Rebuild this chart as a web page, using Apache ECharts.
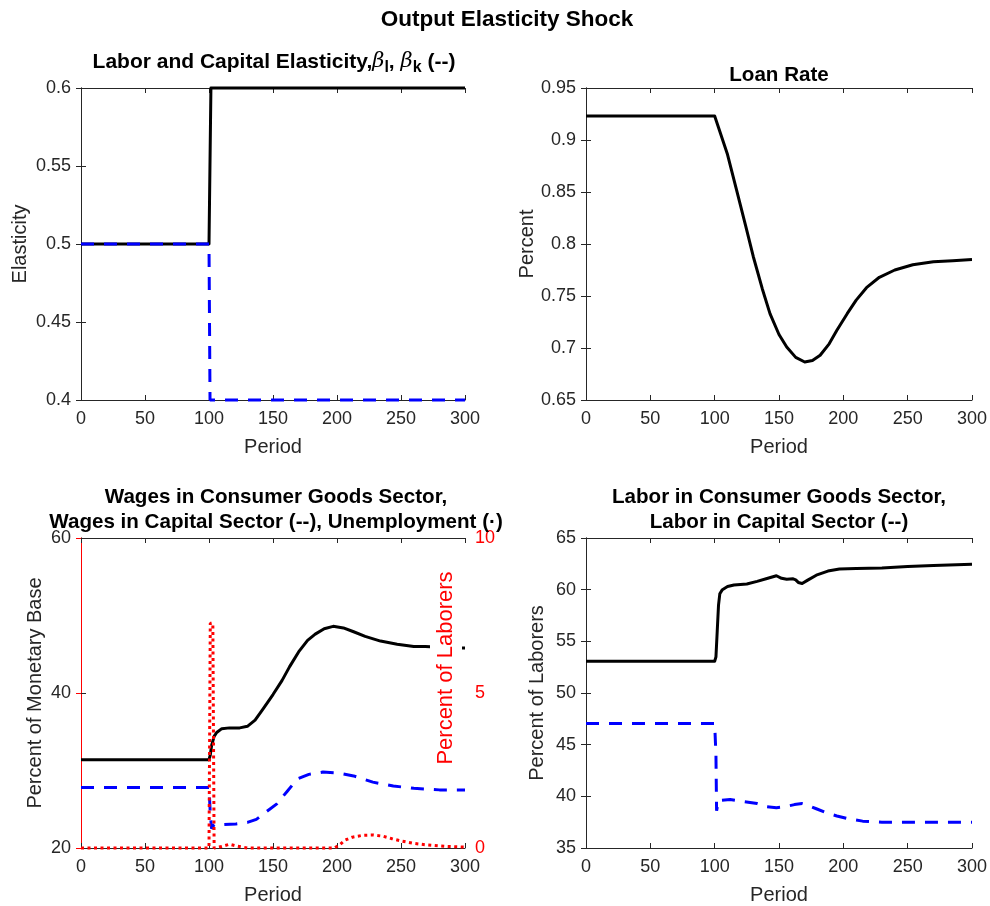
<!DOCTYPE html>
<html>
<head>
<meta charset="utf-8">
<script src="https://cdn.jsdelivr.net/npm/echarts@6/dist/echarts.min.js"></script>
<style>
  html, body { margin: 0; padding: 0; background: #fff; }
  #chart { width: 990px; height: 906px; }
</style>
</head>
<body>
<div id="chart"></div>
<script>
// ---- Panel 1: labor and capital output elasticities ----
const laborElastPeriod = [0, 100, 101.5, 300];
const laborElast = [0.5, 0.5, 0.6, 0.6];
const capitalElastPeriod = [0, 100, 100.8, 300];
const capitalElast = [0.5, 0.5, 0.4, 0.4];

// ---- Panel 2: loan rate ----
const loanPeriod = [0, 50, 100, 101.5, 110, 117, 124, 130, 137, 143, 150, 156, 163, 170, 176, 182, 189, 195, 203, 210, 218, 228, 240, 254, 270, 285, 300];
const loanRate = [0.923, 0.923, 0.923, 0.922, 0.886, 0.852, 0.818, 0.788, 0.757, 0.733, 0.713, 0.701, 0.691, 0.6865, 0.688, 0.693, 0.704, 0.717, 0.733, 0.746, 0.758, 0.768, 0.775, 0.780, 0.783, 0.784, 0.785];

// ---- Panel 3: wages and unemployment ----
const wageConsPeriod = [0, 100, 101, 102, 104, 106, 110, 116, 124, 130, 136, 142, 150, 157, 163, 170, 177, 183, 190, 197, 205, 213, 222, 234, 247, 260, 269, 280, 290, 300];
const wageCons = [31.4, 31.4, 32.0, 33.2, 34.4, 34.9, 35.4, 35.5, 35.5, 35.7, 36.5, 37.9, 39.8, 41.6, 43.4, 45.3, 46.8, 47.6, 48.3, 48.6, 48.4, 47.9, 47.3, 46.7, 46.3, 46.0, 46.0, 45.9, 45.8, 45.8];
const wageCapPeriod = [0, 100, 101, 102, 104, 110, 121, 130, 137, 145, 153, 161, 169, 178, 189, 200, 213, 228, 244, 260, 280, 300];
const wageCap = [27.8, 27.8, 24.5, 22.5, 23.0, 23.0, 23.1, 23.3, 23.7, 24.7, 25.7, 27.3, 28.9, 29.5, 29.8, 29.7, 29.3, 28.5, 28.0, 27.7, 27.5, 27.5];
const unempPeriod = [0, 100, 101, 103, 104, 110, 116, 122, 130, 198, 202, 206, 212, 220, 228, 236, 243, 250, 260, 270, 285, 300];
const unemp = [0, 0, 7.25, 7.25, 0, 0.05, 0.12, 0.06, 0, 0, 0.1, 0.25, 0.35, 0.41, 0.42, 0.38, 0.3, 0.23, 0.15, 0.1, 0.05, 0.03];

// ---- Panel 4: labor by sector ----
const laborConsPeriod = [0, 100, 101, 102, 103, 104, 106, 110, 115, 125, 133, 140, 148, 152, 156, 161, 163, 165, 168, 172, 179, 188, 197, 210, 230, 250, 270, 300];
const laborCons = [53.07, 53.07, 53.5, 56, 58.5, 59.6, 60.0, 60.3, 60.45, 60.55, 60.8, 61.05, 61.35, 61.1, 61.0, 61.05, 60.95, 60.7, 60.6, 60.9, 61.4, 61.8, 62.0, 62.05, 62.1, 62.25, 62.35, 62.45];
const laborCapPeriod = [0, 100, 101, 101.5, 103, 112, 122, 133, 140, 148, 155, 162, 168, 173, 179, 187, 195, 205, 215, 230, 300];
const laborCap = [47.05, 47.05, 44, 38.6, 39.6, 39.7, 39.5, 39.3, 39.0, 38.9, 39.0, 39.2, 39.3, 39.1, 38.8, 38.4, 38.1, 37.8, 37.6, 37.5, 37.5];

const FONT = "'Liberation Sans', Arial, Helvetica, sans-serif";
const AXIS = '#262626';
const pairs = (xs, ys) => xs.map((x, i) => [x, ys[i]]);

// plot rectangles of the four panels
const grids = [
  { left: 81, top: 88, width: 384, height: 312 },
  { left: 586, top: 88, width: 386, height: 312 },
  { left: 81, top: 538, width: 384, height: 311 },
  { left: 586, top: 538, width: 386, height: 311 }
];

function xAxesFor(g) {
  return [
    {
      gridIndex: g, type: 'value', position: 'bottom', min: 0, max: 300, interval: 50,
      name: 'Period', nameLocation: 'middle', nameGap: 37,
      nameTextStyle: { fontFamily: FONT, fontSize: 20, color: AXIS },
      axisLine: { lineStyle: { color: AXIS, width: 1 } },
      axisTick: { inside: true, length: 5, lineStyle: { color: AXIS } },
      axisLabel: { fontFamily: FONT, fontSize: 18, color: AXIS, margin: 10 },
      splitLine: { show: false }
    },
    {
      gridIndex: g, type: 'value', position: 'top', min: 0, max: 300, interval: 50,
      axisLine: { lineStyle: { color: AXIS, width: 1 } },
      axisTick: { inside: true, length: 5, lineStyle: { color: AXIS } },
      axisLabel: { show: false },
      splitLine: { show: false }
    }
  ];
}

function yAxesFor(g, min, max, interval, name, gap, right) {
  const left = {
    gridIndex: g, type: 'value', position: 'left', min, max, interval,
    name, nameLocation: 'middle', nameGap: gap,
    nameTextStyle: { fontFamily: FONT, fontSize: 20, color: AXIS },
    axisLine: { show: true, lineStyle: { color: AXIS, width: 1 } },
    axisTick: { show: true, inside: true, length: 5, lineStyle: { color: AXIS } },
    axisLabel: { fontFamily: FONT, fontSize: 18, color: AXIS, margin: 10 },
    splitLine: { show: false }
  };
  const rightAxis = right || {
    gridIndex: g, type: 'value', position: 'right', min, max, interval,
    axisLine: { show: true, lineStyle: { color: AXIS, width: 1 } },
    axisTick: { show: true, inside: true, length: 5, lineStyle: { color: AXIS } },
    axisLabel: { show: false },
    splitLine: { show: false }
  };
  return [left, rightAxis];
}

const unempAxis = {
  gridIndex: 2, type: 'value', position: 'right', min: 0, max: 10, interval: 5,
  axisLine: { show: true, lineStyle: { color: '#ff0000', width: 1 } },
  axisTick: { show: true, inside: true, length: 5, lineStyle: { color: '#ff0000' } },
  axisLabel: { fontFamily: FONT, fontSize: 18, color: '#ff0000', margin: 10 },
  splitLine: { show: false }
};

const xAxis = [].concat(xAxesFor(0), xAxesFor(1), xAxesFor(2), xAxesFor(3));
const yAxis = [].concat(
  yAxesFor(0, 0.4, 0.6, 0.05, 'Elasticity', 51),
  yAxesFor(1, 0.65, 0.95, 0.05, 'Percent', 49),
  yAxesFor(2, 20, 60, 20, 'Percent of Monetary Base', 36, unempAxis),
  yAxesFor(3, 35, 65, 5, 'Percent of Laborers', 39)
);

const solid = { color: '#000000', width: 3, cap: 'butt', join: 'round' };
const dashed = { color: '#0000ff', width: 3, type: [13, 10], cap: 'butt' };
const dotted = { color: '#ff0000', width: 3, type: [3, 3.5], cap: 'butt' };

function line(g, yIdx, data, style) {
  return {
    type: 'line', xAxisIndex: 2 * g, yAxisIndex: yIdx, data,
    showSymbol: false, symbol: 'none', smooth: false, clip: false,
    lineStyle: style, animation: false, silent: true
  };
}

const series = [
  line(0, 0, pairs(laborElastPeriod, laborElast), solid),
  line(0, 0, pairs(capitalElastPeriod, capitalElast), dashed),
  line(1, 2, pairs(loanPeriod, loanRate), solid),
  line(2, 4, pairs(wageConsPeriod, wageCons), solid),
  line(2, 4, pairs(wageCapPeriod, wageCap), dashed),
  line(2, 5, pairs(unempPeriod, unemp), dotted),
  line(3, 6, pairs(laborConsPeriod, laborCons), solid),
  line(3, 6, pairs(laborCapPeriod, laborCap), dashed)
];

const titleFont = { fontFamily: FONT, fontWeight: 'bold', fontSize: 20.6, fill: '#000' };
function titleText(x, y, text, extra) {
  return {
    type: 'text', x, y, z: 50, silent: true,
    style: Object.assign({ text, align: 'center', verticalAlign: 'middle' }, titleFont, extra || {})
  };
}

const graphic = [
  titleText(507, 20, 'Output Elasticity Shock', { fontSize: 22.5 }),
  titleText(274, 62,
    '{a|Labor and Capital Elasticity,}{g|β}{s|l}{a|, }{g|β}{s|k}{a| (--)}',
    {
      rich: {
        a: { fontFamily: FONT, fontWeight: 'bold', fontSize: 21, fill: '#000' },
        g: { fontFamily: 'DejaVu Serif, serif', fontStyle: 'italic', fontSize: 21, fill: '#000' },
        s: { fontFamily: FONT, fontWeight: 'bold', fontSize: 16, fill: '#000', padding: [12, 0, 0, 0] }
      }
    }),
  titleText(779, 75, 'Loan Rate'),
  titleText(276, 497, 'Wages in Consumer Goods Sector,'),
  titleText(276, 522, 'Wages in Capital Sector (--), Unemployment (·)'),
  titleText(779, 497, 'Labor in Consumer Goods Sector,'),
  titleText(779, 522, 'Labor in Capital Sector (--)'),
  {
    type: 'text', x: 446, y: 668, rotation: Math.PI / 2, z: 60, silent: true,
    style: {
      text: 'Percent of Laborers', align: 'center', verticalAlign: 'middle',
      fontFamily: FONT, fontSize: 22, fill: '#ff0000',
      backgroundColor: '#ffffff', padding: [10, 2, 0, 2]
    }
  }
];

const chart = echarts.init(document.getElementById('chart'), null, { renderer: 'canvas' });
chart.setOption({
  backgroundColor: '#ffffff',
  animation: false,
  grid: grids.map(g => Object.assign({ containLabel: false }, g)),
  xAxis, yAxis, series, graphic
});
</script>
</body>
</html>
